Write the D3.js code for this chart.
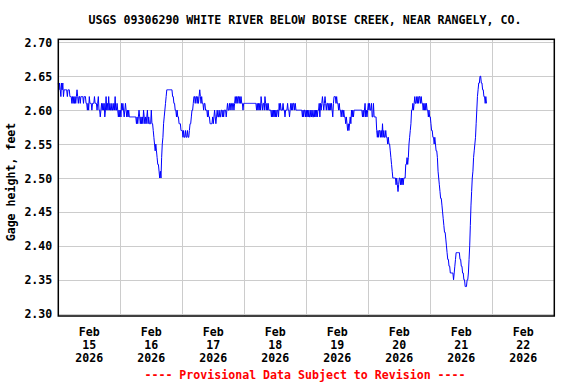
<!DOCTYPE html>
<html>
<head>
<meta charset="utf-8">
<script src="https://cdn.jsdelivr.net/npm/d3@7"></script>
<style>
  body { margin: 0; background: #fff; }
  svg text { font-family: "DejaVu Sans Mono", monospace; font-weight: bold; font-size: 11.6px; }
</style>
</head>
<body>
<script>
// gage height in feet, 15-minute readings from midnight of each day
var feb15 = [2.64,2.63,2.64,2.63,2.62,2.64,2.63,2.64,2.62,2.63,2.63,2.63,2.63,2.63,2.62,2.63,
  2.63,2.63,2.62,2.62,2.62,2.61,2.62,2.61,2.62,2.61,2.62,2.61,2.62,2.63,2.62,2.61,
  2.62,2.62,2.61,2.62,2.62,2.62,2.62,2.61,2.62,2.62,2.62,2.61,2.61,2.60,2.61,2.60,
  2.62,2.61,2.61,2.61,2.60,2.61,2.61,2.61,2.62,2.61,2.61,2.61,2.60,2.61,2.62,2.60,
  2.60,2.59,2.60,2.61,2.60,2.61,2.60,2.61,2.59,2.60,2.62,2.60,2.61,2.60,2.62,2.60,
  2.61,2.60,2.60,2.61,2.60,2.60,2.61,2.60,2.62,2.60,2.60,2.61,2.60,2.59,2.60,2.59];
var feb16 = [2.60,2.59,2.61,2.60,2.61,2.60,2.59,2.60,2.61,2.60,2.59,2.60,2.59,2.60,2.59,2.59,
  2.59,2.59,2.59,2.59,2.59,2.59,2.59,2.59,2.59,2.58,2.59,2.58,2.59,2.60,2.59,2.58,
  2.59,2.58,2.59,2.58,2.60,2.59,2.58,2.59,2.58,2.59,2.60,2.58,2.59,2.58,2.58,2.58,
  2.60,2.58,2.58,2.57,2.56,2.55,2.54,2.55,2.54,2.53,2.52,2.52,2.51,2.50,2.51,2.50,
  2.53,2.55,2.56,2.58,2.59,2.60,2.61,2.62,2.63,2.63,2.63,2.63,2.63,2.63,2.63,2.63,
  2.63,2.62,2.62,2.61,2.61,2.60,2.60,2.59,2.60,2.59,2.59,2.58,2.58,2.58,2.57,2.57];
var feb17 = [2.57,2.56,2.57,2.56,2.56,2.57,2.56,2.56,2.57,2.56,2.56,2.57,2.58,2.58,2.59,2.60,
  2.60,2.61,2.62,2.62,2.61,2.62,2.62,2.61,2.62,2.61,2.62,2.63,2.62,2.61,2.62,2.61,
  2.61,2.60,2.61,2.61,2.60,2.60,2.60,2.59,2.60,2.59,2.59,2.58,2.58,2.58,2.58,2.59,
  2.58,2.59,2.60,2.59,2.58,2.59,2.60,2.59,2.59,2.60,2.59,2.59,2.60,2.60,2.59,2.60,
  2.59,2.60,2.60,2.60,2.59,2.60,2.61,2.60,2.60,2.61,2.60,2.61,2.61,2.60,2.61,2.61,
  2.60,2.61,2.62,2.61,2.62,2.61,2.62,2.62,2.61,2.62,2.61,2.62,2.61,2.61,2.60,2.61];
var feb18 = [2.61,2.61,2.61,2.61,2.61,2.61,2.61,2.61,2.61,2.61,2.61,2.61,2.61,2.61,2.61,2.61,
  2.61,2.61,2.61,2.60,2.61,2.60,2.61,2.60,2.61,2.60,2.62,2.61,2.60,2.61,2.61,2.60,
  2.62,2.61,2.60,2.61,2.60,2.61,2.60,2.60,2.60,2.60,2.59,2.60,2.59,2.60,2.59,2.60,
  2.59,2.60,2.59,2.60,2.60,2.59,2.61,2.60,2.61,2.60,2.60,2.60,2.61,2.60,2.60,2.59,
  2.60,2.60,2.60,2.61,2.60,2.60,2.59,2.60,2.61,2.60,2.61,2.60,2.61,2.61,2.60,2.61,
  2.60,2.60,2.60,2.60,2.60,2.60,2.60,2.60,2.60,2.60,2.59,2.60,2.59,2.60,2.60,2.59];
var feb19 = [2.60,2.59,2.60,2.59,2.60,2.59,2.59,2.60,2.59,2.60,2.59,2.59,2.60,2.59,2.60,2.59,
  2.60,2.59,2.60,2.60,2.61,2.59,2.61,2.60,2.61,2.62,2.61,2.60,2.61,2.62,2.61,2.60,
  2.61,2.61,2.60,2.61,2.60,2.61,2.60,2.61,2.60,2.59,2.61,2.62,2.62,2.62,2.61,2.62,
  2.61,2.61,2.60,2.61,2.60,2.60,2.59,2.60,2.60,2.59,2.60,2.59,2.59,2.58,2.59,2.58,
  2.57,2.58,2.57,2.58,2.59,2.58,2.60,2.59,2.60,2.59,2.60,2.60,2.60,2.60,2.60,2.60,
  2.60,2.60,2.60,2.60,2.60,2.60,2.60,2.59,2.60,2.59,2.60,2.61,2.59,2.60,2.59,2.60];
var feb20 = [2.61,2.60,2.61,2.60,2.60,2.61,2.59,2.59,2.61,2.59,2.59,2.59,2.59,2.57,2.56,2.57,
  2.56,2.57,2.57,2.56,2.57,2.56,2.58,2.56,2.57,2.56,2.56,2.57,2.56,2.56,2.55,2.56,
  2.55,2.55,2.54,2.53,2.52,2.51,2.50,2.50,2.50,2.50,2.50,2.49,2.50,2.49,2.48,2.49,
  2.50,2.50,2.49,2.50,2.49,2.50,2.49,2.50,2.50,2.50,2.52,2.52,2.53,2.52,2.53,2.55,
  2.56,2.57,2.58,2.60,2.60,2.61,2.60,2.61,2.62,2.61,2.61,2.62,2.61,2.62,2.61,2.62,
  2.62,2.61,2.62,2.61,2.61,2.60,2.61,2.60,2.61,2.60,2.61,2.60,2.60,2.59,2.60,2.59];
var feb21 = [2.59,2.58,2.57,2.57,2.56,2.56,2.55,2.56,2.55,2.54,2.54,2.53,2.51,2.50,2.49,2.48,
  2.47,2.47,2.46,2.45,2.44,2.43,2.42,2.42,2.41,2.40,2.39,2.38,2.38,2.37,2.37,2.36,
  2.36,2.36,2.36,2.36,2.35,2.36,2.37,2.38,2.39,2.39,2.39,2.39,2.39,2.39,2.38,2.38,
  2.37,2.37,2.36,2.36,2.35,2.35,2.34,2.34,2.34,2.35,2.35,2.36,2.38,2.40,2.43,2.46,
  2.48,2.50,2.51,2.53,2.54,2.55,2.56,2.58,2.60,2.62,2.63,2.64,2.64,2.65,2.65,2.64,
  2.64,2.63,2.63,2.62,2.62,2.61,2.62,2.61];

var dayLabels = ["15", "16", "17", "18", "19", "20", "21", "22"];
var yTicks = [2.30, 2.35, 2.40, 2.45, 2.50, 2.55, 2.60, 2.65, 2.70];
var title = "USGS 09306290 WHITE RIVER BELOW BOISE CREEK, NEAR RANGELY, CO.";
var yTitle = "Gage height, feet";
var footer = "---- Provisional Data Subject to Revision ----";

var W = 576, H = 384;
var box = {left: 58.3, right: 554.3, top: 39.3, bottom: 316};
var t0 = Date.UTC(2026, 1, 15), t1 = Date.UTC(2026, 1, 23);
var step = 15 * 60 * 1000;

var values = [].concat(feb15, feb16, feb17, feb18, feb19, feb20, feb21);
var data = values.map(function(v, i) { return {t: new Date(t0 + i * step), v: v}; });

var x = d3.scaleUtc().domain([new Date(t0), new Date(t1)]).range([box.left, box.right]);
var y = d3.scaleLinear().domain([2.30, 2.70]).range([313.7, 42.3]);

var svg = d3.select("body").append("svg")
  .attr("width", W)
  .attr("height", H)
  .attr("xmlns", "http://www.w3.org/2000/svg");

svg.append("rect").attr("width", W).attr("height", H).attr("fill", "#fff");

// horizontal grid + y labels
var gy = svg.append("g")
  .attr("transform", "translate(" + box.left + ",0)")
  .call(d3.axisLeft(y).tickValues(yTicks).tickSize(-(box.right - box.left)).tickPadding(6).tickFormat(d3.format(".2f")));
gy.select(".domain").remove();
gy.selectAll("line").attr("stroke", "#cccccc").attr("shape-rendering", "crispEdges");
gy.selectAll("text").attr("fill", "#000").attr("dy", "0.35em");

// vertical grid at midnights
var gx = svg.append("g")
  .attr("transform", "translate(0," + box.bottom + ")")
  .call(d3.axisBottom(x).tickValues(d3.utcDay.range(new Date(t0 + 864e5), new Date(t1))).tickSize(-(box.bottom - box.top)).tickFormat(""));
gx.select(".domain").remove();
gx.selectAll("line").attr("stroke", "#cccccc").attr("shape-rendering", "crispEdges");

// day labels centred at noon
var lab = svg.append("g").selectAll("text")
  .data(dayLabels)
  .enter().append("text")
  .attr("text-anchor", "middle")
  .attr("fill", "#000");
lab.each(function(d, i) {
  var cx = x(new Date(t0 + (i + 0.5) * 864e5));
  var t = d3.select(this);
  t.append("tspan").attr("x", cx).attr("y", 335.5).text("Feb");
  t.append("tspan").attr("x", cx).attr("y", 348.5).text(d);
  t.append("tspan").attr("x", cx).attr("y", 361.5).text("2026");
});

// the series
svg.append("path")
  .datum(data)
  .attr("fill", "none")
  .attr("stroke", "#0000ff")
  .attr("stroke-width", 1)
  .attr("d", d3.line().x(function(d) { return x(d.t); }).y(function(d) { return y(d.v); }));

// plot frame
svg.append("rect")
  .attr("x", box.left)
  .attr("y", box.top)
  .attr("width", box.right - box.left)
  .attr("height", box.bottom - box.top)
  .attr("fill", "none")
  .attr("stroke", "#000")
  .attr("stroke-width", 1.5);

svg.append("text")
  .attr("x", 305)
  .attr("y", 24)
  .attr("text-anchor", "middle")
  .attr("fill", "#000")
  .text(title);

svg.append("text")
  .attr("transform", "translate(15,182) rotate(-90)")
  .attr("text-anchor", "middle")
  .attr("fill", "#000")
  .text(yTitle);

svg.append("text")
  .attr("x", 305)
  .attr("y", 379)
  .attr("text-anchor", "middle")
  .attr("fill", "#ff0000")
  .text(footer);
</script>
</body>
</html>
